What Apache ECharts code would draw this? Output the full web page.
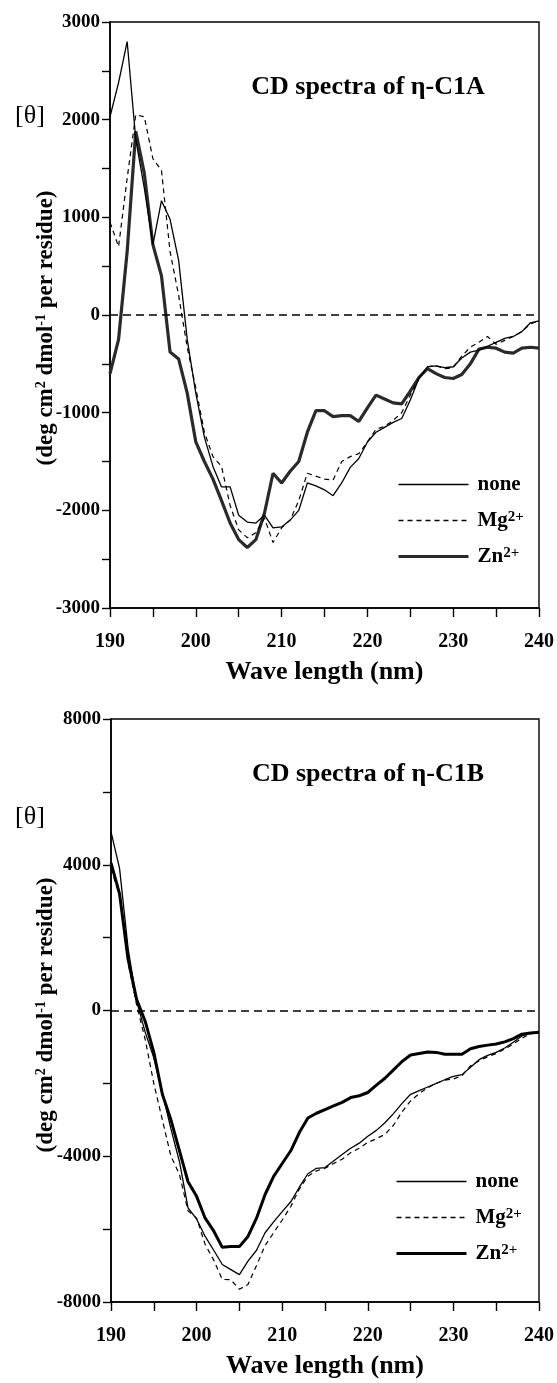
<!DOCTYPE html>
<html>
<head>
<meta charset="utf-8">
<title>CD spectra of η-C1A / η-C1B</title>
<script src="https://cdn.jsdelivr.net/npm/echarts@6/dist/echarts.min.js"></script>
<style>
html, body { margin: 0; padding: 0; background: #fff; }
#chart { width: 557px; height: 1383px; }
</style>
</head>
<body>
<div id="chart"></div>
<script>
// wave length (nm), one reading per nm
const wavelengths = [190, 191, 192, 193, 194, 195, 196, 197, 198, 199,
  200, 201, 202, 203, 204, 205, 206, 207, 208, 209,
  210, 211, 212, 213, 214, 215, 216, 217, 218, 219,
  220, 221, 222, 223, 224, 225, 226, 227, 228, 229,
  230, 231, 232, 233, 234, 235, 236, 237, 238, 239, 240]

// η-C1A
const c1aNone = [2030, 2380, 2800, 1800, 1300, 720, 1170, 980, 560, -250,
  -800, -1250, -1550, -1760, -1760, -2050, -2120, -2130, -2050, -2180,
  -2170, -2100, -2000, -1720, -1750, -1790, -1850, -1720, -1560, -1470,
  -1300, -1200, -1150, -1100, -1060, -870, -650, -530, -520, -540,
  -530, -440, -380, -360, -320, -280, -240, -220, -170, -80, -60]
const c1aMg = [950, 700, 1400, 2050, 2030, 1600, 1480, 650, 200, -330,
  -750, -1200, -1450, -1550, -1950, -2200, -2280, -2230, -2080, -2330,
  -2180, -2100, -1900, -1620, -1650, -1680, -1690, -1500, -1450, -1420,
  -1300, -1170, -1140, -1080, -1000, -820, -650, -530, -520, -550,
  -540, -420, -330, -280, -220, -300, -260, -220, -170, -90, -60]
const c1aZn = [-600, -250, 650, 1880, 1450, 720, 400, -380, -450, -800,
  -1300, -1500, -1680, -1900, -2130, -2300, -2380, -2300, -2030, -1620,
  -1720, -1600, -1500, -1200, -980, -980, -1040, -1030, -1030, -1090,
  -950, -820, -860, -900, -910, -780, -640, -550, -600, -640,
  -650, -610, -500, -350, -330, -340, -380, -390, -340, -330, -340]

// η-C1B
const c1bNone = [4900, 3900, 1700, 250, -600, -1300, -2250, -3250, -4150, -5420,
  -5720, -6200, -6580, -6970, -7110, -7250, -6880, -6580, -6100, -5800,
  -5520, -5250, -4850, -4480, -4330, -4310, -4130, -3950, -3780, -3640,
  -3450, -3290, -3080, -2830, -2550, -2300, -2200, -2100, -2000, -1900,
  -1810, -1760, -1560, -1350, -1230, -1150, -1030, -870, -700, -620, -600]
const c1bMg = [3900, 3150, 1300, 150, -800, -2000, -3000, -4000, -4500, -5500,
  -5700, -6420, -6850, -7380, -7390, -7650, -7520, -7000, -6450, -6100,
  -5750, -5380, -4900, -4550, -4400, -4330, -4200, -4080, -3900, -3780,
  -3620, -3520, -3400, -3150, -2780, -2480, -2280, -2120, -2000, -1910,
  -1880, -1790, -1520, -1380, -1270, -1180, -1060, -920, -760, -640, -600]
const c1bZn = [4050, 3200, 1400, 300, -300, -1150, -2300, -3000, -3850, -4700,
  -5100, -5700, -6050, -6500, -6480, -6480, -6200, -5700, -5050, -4550,
  -4200, -3850, -3350, -2950, -2820, -2720, -2620, -2520, -2390, -2340,
  -2250, -2050, -1860, -1630, -1400, -1220, -1180, -1140, -1150, -1200,
  -1200, -1200, -1050, -990, -950, -920, -860, -770, -650, -620, -600]

const legendLabels = { none: 'none', Mg: 'Mg{s|2+}', Zn: 'Zn{s|2+}' }

const serif = 'Liberation Serif, Times New Roman, serif'
const pair = vals => wavelengths.map((w, i) => [w, vals[i]])

function lineSeries (name, vals, idx, style, withZero) {
  const s = {
    name: name,
    type: 'line',
    xAxisIndex: idx,
    yAxisIndex: idx,
    data: pair(vals),
    symbol: 'none',
    showSymbol: false,
    animation: false,
    itemStyle: { color: style.color },
    lineStyle: style,
    z: style.width > 2 ? 3 : 4
  }
  if (withZero) {
    // dashed zero line across the plot
    s.markLine = {
      silent: true,
      symbol: 'none',
      animation: false,
      label: { show: false },
      lineStyle: { type: [8, 5], color: '#000', width: 1.5 },
      data: [{ yAxis: 0 }]
    }
  }
  return s
}

function xAxisOf (idx) {
  return {
    gridIndex: idx,
    type: 'value',
    min: 190,
    max: 240,
    interval: 5,
    name: 'Wave length (nm)',
    nameLocation: 'middle',
    nameGap: 51,
    nameTextStyle: { fontFamily: serif, fontWeight: 'bold', fontSize: 26, color: '#000' },
    axisLine: { onZero: false, lineStyle: { color: '#000', width: 1.6 } },
    axisTick: { length: 9, lineStyle: { color: '#000', width: 1.4 } },
    axisLabel: {
      margin: 24,
      fontFamily: serif, fontWeight: 'bold', fontSize: 20, color: '#000',
      formatter: v => (v % 10 === 0 ? String(v) : '')
    },
    splitLine: { show: false }
  }
}

function yAxisOf (idx, min, max, step, labelStep) {
  return {
    gridIndex: idx,
    type: 'value',
    min: min,
    max: max,
    interval: step,
    axisLine: { show: true, onZero: false, lineStyle: { color: '#000', width: 1.6 } },
    axisTick: { length: 8, lineStyle: { color: '#000', width: 1.4 } },
    axisLabel: {
      margin: 10,
      fontFamily: serif, fontWeight: 'bold', fontSize: 19, color: '#000',
      formatter: v => (v % labelStep === 0 ? String(v) : '')
    },
    splitLine: { show: false }
  }
}

function legendOf (prefix, left, top) {
  return {
    orient: 'vertical',
    left: left,
    top: top,
    padding: 0,
    itemWidth: 70,
    itemHeight: 14,
    itemGap: 15,
    selectedMode: false,
    itemStyle: { opacity: 0, borderWidth: 0 },
    data: [
      { name: prefix + 'none', lineStyle: { width: 1.5 } },
      { name: prefix + 'Mg', lineStyle: { width: 1.3, type: [5, 4] } },
      { name: prefix + 'Zn', lineStyle: { width: 3 } }
    ],
    formatter: n => legendLabels[n.slice(prefix.length)],
    textStyle: {
      fontFamily: serif, fontWeight: 'bold', fontSize: 21, color: '#000',
      padding: [0, 0, 0, 4],
      rich: { s: { fontFamily: serif, fontWeight: 'bold', fontSize: 15, color: '#000', verticalAlign: 'top' } }
    }
  }
}

function yName (x, y) {
  return {
    type: 'text',
    x: x,
    y: y,
    rotation: Math.PI / 2,
    style: {
      text: '(deg cm{s|2} dmol{s|-1} per residue)',
      fill: '#000',
      fontFamily: serif,
      fontWeight: 'bold',
      fontSize: 23,
      align: 'center',
      verticalAlign: 'middle',
      rich: { s: { fontFamily: serif, fontWeight: 'bold', fontSize: 14, fill: '#000', verticalAlign: 'top' } }
    }
  }
}

function label (text, x, y, size, weight) {
  return {
    type: 'text',
    x: x,
    y: y,
    style: {
      text: text,
      fill: '#000',
      fontFamily: serif,
      fontWeight: weight,
      fontSize: size,
      align: 'center',
      verticalAlign: 'middle'
    }
  }
}

const chart = echarts.init(document.getElementById('chart'), null, { renderer: 'canvas' })

const thin = { color: '#000', width: 1.3, type: 'solid' }
const dash = { color: '#000', width: 1.2, type: [5, 4] }

chart.setOption({
  backgroundColor: '#fff',
  animation: false,
  grid: [
    { left: 110, right: 17, top: 22, height: 586, show: true, borderColor: '#000', borderWidth: 1.4 },
    { left: 111, right: 17, top: 719, height: 583, show: true, borderColor: '#000', borderWidth: 1.4 }
  ],
  xAxis: [xAxisOf(0), xAxisOf(1)],
  yAxis: [
    yAxisOf(0, -3000, 3000, 500, 1000),
    yAxisOf(1, -8000, 8000, 2000, 4000)
  ],
  legend: [legendOf('A-', 397, 474), legendOf('B-', 395, 1171)],
  series: [
    lineSeries('A-none', c1aNone, 0, thin, true),
    lineSeries('A-Mg', c1aMg, 0, dash, false),
    lineSeries('A-Zn', c1aZn, 0, { color: '#2a2a2a', width: 3.2, type: 'solid' }, false),
    lineSeries('B-none', c1bNone, 1, thin, true),
    lineSeries('B-Mg', c1bMg, 1, dash, false),
    lineSeries('B-Zn', c1bZn, 1, { color: '#000', width: 3, type: 'solid' }, false)
  ],
  graphic: [
    label('CD spectra of η-C1A', 368, 87, 26, 'bold'),
    label('CD spectra of η-C1B', 368, 774, 26, 'bold'),
    label('[θ]', 30, 116, 26, 'normal'),
    label('[θ]', 30, 817, 26, 'normal'),
    yName(46, 328),
    yName(46, 1015)
  ]
})
</script>
</body>
</html>
